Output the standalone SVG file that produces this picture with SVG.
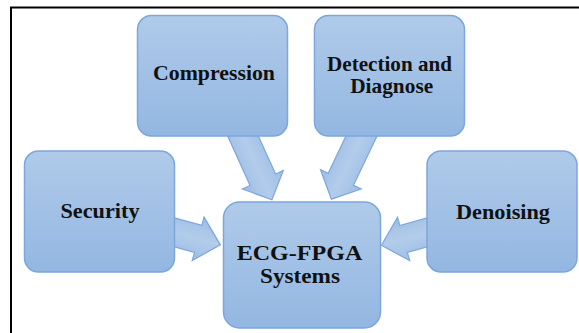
<svg xmlns="http://www.w3.org/2000/svg" width="579" height="333" viewBox="0 0 579 333">
  <defs>
    <linearGradient id="boxGrad" x1="0" y1="0" x2="0" y2="1">
      <stop offset="0" stop-color="#b0cae9"/>
      <stop offset="1" stop-color="#93b7e2"/>
    </linearGradient>
    <linearGradient id="arrGrad" x1="0" y1="0" x2="0" y2="1">
      <stop offset="0" stop-color="#9dbde4"/>
      <stop offset="0.5" stop-color="#b3cceb"/>
      <stop offset="1" stop-color="#9dbde4"/>
    </linearGradient>
    <path id="arrLong" d="M-12,-14 L48,-14 L48,-22.5 L70,0 L48,22.5 L48,14 L-12,14 Z"/>
    <path id="arrShort" d="M-12,-14 L24,-14 L24,-22.5 L47,0 L24,22.5 L24,14 L-12,14 Z"/>
  </defs>
  <style>
    .box { fill: url(#boxGrad); stroke: #7ba7dc; stroke-width: 1.5; }
    .arr { fill: url(#arrGrad); stroke: #7ba7dc; stroke-width: 1.2; }
    text { font-family: 'Liberation Serif', 'DejaVu Serif', 'Times New Roman', serif; font-weight: bold; font-size: 21px; fill: #111; text-anchor: middle; }
    text.big { font-size: 22px; }
  </style>
  <rect x="11" y="7.5" width="620" height="400" fill="#ffffff" stroke="#000000" stroke-width="2"/>
  <g id="connectors">
    <use href="#arrLong" class="arr" transform="translate(243,136) rotate(65.6)"/>
    <use href="#arrLong" class="arr" transform="translate(361.5,136) rotate(115.5)"/>
    <use href="#arrShort" class="arr" transform="translate(175,232.5) rotate(15.2)"/>
    <use href="#arrShort" class="arr" transform="translate(426.7,232.5) rotate(164.3)"/>
  </g>
  <g id="compression">
    <rect class="box" x="137.5" y="15.5" width="150" height="120.5" rx="14"/>
    <text font-family="Liberation Serif, serif" x="214" y="80" textLength="122" lengthAdjust="spacingAndGlyphs">Compression</text>
  </g>
  <g id="detection">
    <rect class="box" x="314.5" y="15.5" width="150" height="120.5" rx="14"/>
    <text font-family="Liberation Serif, serif" x="389.5" y="71" textLength="125" lengthAdjust="spacingAndGlyphs">Detection and</text>
    <text font-family="Liberation Serif, serif" x="391.7" y="93" textLength="83" lengthAdjust="spacingAndGlyphs">Diagnose</text>
  </g>
  <g id="security">
    <rect class="box" x="24.5" y="151" width="150" height="121" rx="14"/>
    <text font-family="Liberation Serif, serif" x="100" y="218" textLength="79" lengthAdjust="spacingAndGlyphs">Security</text>
  </g>
  <g id="denoising">
    <rect class="box" x="427" y="151" width="150" height="121" rx="14"/>
    <text font-family="Liberation Serif, serif" x="503" y="219" textLength="94" lengthAdjust="spacingAndGlyphs">Denoising</text>
  </g>
  <g id="ecg-fpga">
    <rect class="box" x="223.5" y="202" width="157" height="126" rx="16"/>
    <text class="big" font-family="Liberation Serif, serif" x="299.5" y="260" textLength="125.6" lengthAdjust="spacingAndGlyphs">ECG-FPGA</text>
    <text class="big" font-family="Liberation Serif, serif" x="300" y="283" textLength="80" lengthAdjust="spacingAndGlyphs">Systems</text>
  </g>
</svg>
